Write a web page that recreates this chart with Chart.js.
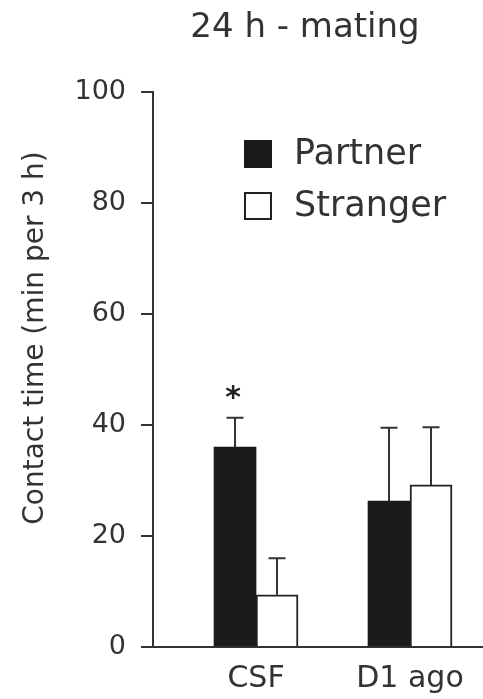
<!DOCTYPE html>
<html>
<head>
<meta charset="utf-8">
<script src="https://cdn.jsdelivr.net/npm/chart.js@4.4.0/dist/chart.umd.min.js"></script>
<style>
  html, body { margin: 0; padding: 0; background: #fff; }
</style>
</head>
<body>
<canvas id="contactChart" width="483" height="699"></canvas>
<script>
// values (min per 3 h), error = upward SEM whisker
const categories = ['CSF', 'D1 ago'];
const partnerMeans = [36.0, 26.3];
const partnerErrors = [5.3, 13.2];
const strangerMeans = [9.4, 29.2];
const strangerErrors = [6.6, 10.4];
const partnerMarks = ['*', ''];
const yTicks = [0, 20, 40, 60, 80, 100];

const FONT = "'DejaVu Sans', sans-serif";
const INK = '#333';

function toPoints(values) {
  return values.map((v, i) => ({ x: i + 1, y: v }));
}

// whiskers + significance star
const errorBars = {
  id: 'errorBars',
  afterDatasetsDraw(chart) {
    const c = chart.ctx;
    const yScale = chart.scales.y;
    chart.data.datasets.forEach((ds, di) => {
      const meta = chart.getDatasetMeta(di);
      meta.data.forEach((bar, i) => {
        const top = yScale.getPixelForValue(ds.data[i].y + ds.errors[i]);
        c.save();
        c.strokeStyle = INK;
        c.lineWidth = 2;
        c.beginPath();
        c.moveTo(bar.x, bar.y);
        c.lineTo(bar.x, top);
        c.moveTo(bar.x - 8.5, top);
        c.lineTo(bar.x + 8.5, top);
        c.stroke();
        if (ds.marks && ds.marks[i]) {
          c.fillStyle = '#222';
          c.font = 'bold 30px ' + FONT;
          c.textAlign = 'center';
          c.textBaseline = 'middle';
          c.fillText(ds.marks[i], bar.x - 2, top - 19);
        }
        c.restore();
      });
    });
  }
};

// title, y axis title and the in-plot legend
const labels = {
  id: 'labels',
  afterDraw(chart) {
    const c = chart.ctx;
    c.save();
    c.fillStyle = INK;
    c.textBaseline = 'middle';

    c.textAlign = 'center';
    c.font = '34px ' + FONT;
    c.fillText('24 h - mating', 305, 28);

    c.save();
    c.translate(36, 338);
    c.rotate(-Math.PI / 2);
    c.font = '28px ' + FONT;
    c.fillText('Contact time (min per 3 h)', 0, 0);
    c.restore();

    c.textAlign = 'left';
    c.font = '35px ' + FONT;
    chart.data.datasets.forEach((ds, i) => {
      const cy = 154 + i * 52;
      c.fillStyle = ds.backgroundColor;
      c.fillRect(244, cy - 14, 28, 28);
      if (ds.borderWidth) {
        c.strokeStyle = ds.borderColor;
        c.lineWidth = 2;
        c.strokeRect(245, cy - 13, 26, 26);
      }
      c.fillStyle = INK;
      c.fillText(ds.label, 294, cy + 1);
    });
    c.restore();
  }
};

const contactChart = new Chart(document.getElementById('contactChart'), {
  type: 'bar',
  data: {
    datasets: [
      {
        label: 'Partner',
        data: toPoints(partnerMeans),
        errors: partnerErrors,
        marks: partnerMarks,
        backgroundColor: '#1c1a1a',
        borderWidth: 0,
        barThickness: 42
      },
      {
        label: 'Stranger',
        data: toPoints(strangerMeans),
        errors: strangerErrors,
        backgroundColor: '#ffffff',
        borderColor: '#222',
        borderWidth: 2,
        barThickness: 42
      }
    ]
  },
  options: {
    responsive: false,
    animation: false,
    devicePixelRatio: 1,
    layout: { padding: { top: 92, left: 0, right: 0, bottom: 0 } },
    plugins: {
      legend: { display: false },
      tooltip: { enabled: false }
    },
    scales: {
      x: {
        type: 'linear',
        offset: false,
        min: 0.331,
        max: 2.474,
        grid: { display: false, offset: false },
        border: { display: true, color: INK, width: 2 },
        afterBuildTicks: (s) => { s.ticks = categories.map((_, i) => ({ value: i + 1 })); },
        afterFit: (s) => { s.height = 52; },
        ticks: {
          callback: (v) => categories[v - 1] || '',
          font: { family: FONT, size: 30 },
          color: INK,
          padding: 6,
          maxRotation: 0,
          autoSkip: false
        }
      },
      y: {
        min: 0,
        max: 100,
        afterBuildTicks: (s) => { s.ticks = yTicks.map((v) => ({ value: v })); },
        afterFit: (s) => { s.width = 153; },
        grid: { drawOnChartArea: false, drawTicks: true, tickLength: 12, color: INK, lineWidth: 2 },
        border: { color: INK, width: 2 },
        ticks: {
          font: { family: FONT, size: 27 },
          color: INK,
          padding: 15
        }
      }
    }
  },
  plugins: [errorBars, labels]
});
</script>
</body>
</html>
